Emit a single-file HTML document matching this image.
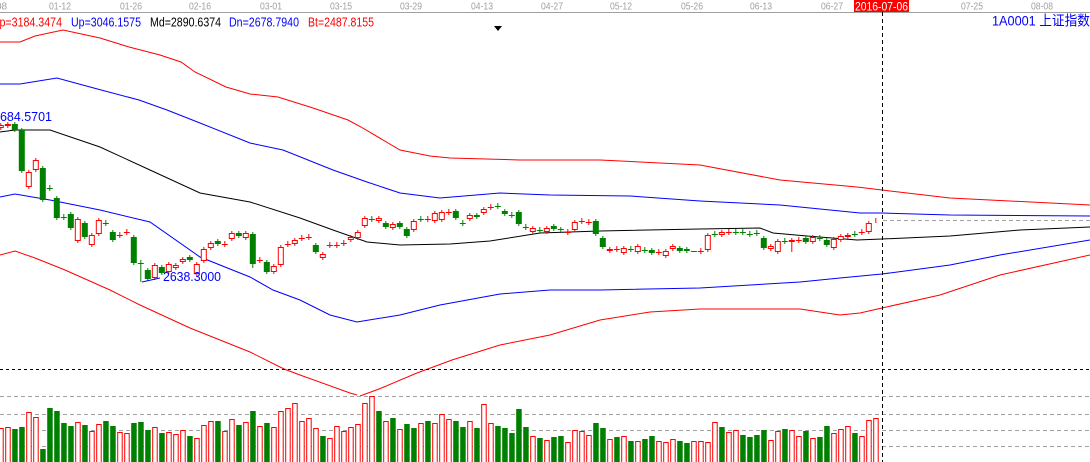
<!DOCTYPE html>
<html><head><meta charset="utf-8"><style>
html,body{margin:0;padding:0;background:#fff;overflow:hidden}
svg{display:block}
text{font-family:"Liberation Sans","Noto Sans CJK SC",sans-serif}
</style></head><body>
<svg id="s" width="1090" height="462" xmlns="http://www.w3.org/2000/svg"></svg>
<script>
const S=document.getElementById('s');let h='';
const pl=(pts,c)=>{h+=`<polyline fill="none" stroke="${c}" stroke-width="1" points="${pts.map(p=>p.join(',')).join(' ')}"/>`;};
const T=(x,y,sz,c,t,L)=>{h+=`<text x="${x}" y="${y}" font-size="${sz}" fill="${c}" textLength="${L}" lengthAdjust="spacingAndGlyphs">${t}</text>`;};
// axis
h+=`<line x1="0" y1="12.5" x2="1090" y2="12.5" stroke="#a0a0a0"/>`;
[["01-12",60],["01-26",131],["02-16",200],["03-01",271],["03-15",341],["03-29",411],["04-13",482],["04-27",552],["05-12",621],["05-26",692],["06-13",761],["06-27",832],["07-25",972],["08-08",1042]].forEach(([t,x])=>{T(x-11,9.5,10,"#a0a0a0",t,22);});
h+=`<text x="-4" y="9.5" font-size="10" fill="#a0a0a0">08</text>`;
h+=`<rect x="854" y="0" width="55" height="12" fill="#ff0000"/>`;T(855,10.5,12,"#fff","2016-07-06",53);
// header
T(-7,26.5,13,"#ff0000","Tp=3184.3474",69);T(71,26.5,13,"#0000ff","Up=3046.1575",70);T(150,26.5,13,"#000","Md=2890.6374",71);T(229,26.5,13,"#0000ff","Dn=2678.7940",70);T(308,26.5,13,"#ff0000","Bt=2487.8155",66);
h+=`<polygon points="494,26 502,26 498,31" fill="#000"/>`;
T(992,25.5,14,"#0000ff","1A0001  上证指数",98);
// bands
pl([[0,42],[20,42],[35,36],[63,30],[100,38],[129,47],[160,55],[181,62],[195,72],[226,87],[250,94],[278,97],[313,108],[348,120],[361,127],[400,150],[430,156],[450,158],[520,160],[600,160],[700,165],[780,180],[857,187],[882,190],[950,198],[1090,205]],"#ff0000");
pl([[0,84],[20,84],[57,78],[90,87],[139,100],[167,110],[200,123],[250,143],[283,150],[333,170],[367,182],[400,193],[440,198],[500,193],[550,195],[630,196],[700,201],[780,205],[860,213],[882,213],[950,215],[1090,216]],"#0000ff");
pl([[0,132],[15,130],[50,130],[100,147],[150,170],[200,193],[250,202],[300,218],[333,230],[367,242],[400,245],[450,244],[490,241],[540,233],[600,231],[700,229],[760,228],[773,233],[807,236],[857,240],[882,239],[950,236],[1020,230],[1090,227]],"#000");
pl([[0,197],[15,194],[50,200],[100,210],[150,222],[200,257],[250,277],[273,290],[300,300],[330,315],[357,322],[400,315],[440,305],[500,294],[550,290],[600,290],[700,288],[800,282],[840,278],[882,274],[950,265],[1000,255],[1090,240]],"#0000ff");
pl([[0,255],[15,251],[35,258],[65,270],[110,290],[140,305],[190,328],[250,352],[284,369],[300,375],[350,393],[357,395]],"#ff0000");
pl([[360,396],[379,389],[417,373],[452,360],[500,345],[550,335],[600,320],[650,312],[700,309],[800,309],[840,315],[860,313],[882,308],[940,295],[1000,275],[1090,255]],"#ff0000");
// candles
const C=`r125,128;r124,126;g124,130;g130,171;r172,187;r160,170;g168,200;g188,188;g198,218;g217,217;g214,228;r219,241;g223,237;r235,245;r220,234;g223,223;g232,240;r235,235;r232,232;g237,263;g263,263;g270,279;r265,278;g267,273;r264,272;r265,268;r259,262;g257,260;r264,274;r249,261;r243,248;g241,244;r244,244;r233,239;g233,236;r233,238;g234,264;r260,260;g262,272;r266,272;r247,265;r244,244;r240,244;r238,238;r237,237;g245,252;r254,258;r245,245;r245,245;r243,243;r237,240;r232,238;r218,226;g219,219;r218,221;g223,227;r224,228;g223,227;g229,236;r221,230;g219,219;r219,219;r213,221;r212,220;r212,212;g211,218;g223,223;r215,219;g215,217;r209,213;r207,207;g206,206;g211,214;g215,215;g212,224;g227,227;r228,232;g230,230;r228,232;g226,229;g229,230;r232,232;r222,230;r221,221;r222,222;g221,234;g238,247;r249,251;r249,249;r248,253;g249,249;r246,252;g250,250;g250,253;r252,252;r251,256;r246,249;g248,251;g249,251;r251,251;r251,251;r235,250;g234,234;r232,235;r232,232;g232,232;g232,232;g234,234;g233,233;g238,248;r246,249;r241,252;g241,241;r240,242;r240,240;g238,242;r237,242;g238,238;g240,245;r239,248;r236,240;r235,237;g234,234;r232,232;r223,232;r220,221`.split(';');
C.forEach((s,i)=>{const c=s[0]==='r'?'#ff0000':'#008000';let [a,b]=s.slice(1).split(',').map(Number);const x=7*i+0.8;let hi=a-(a===b?3:2),lo=b+(a===b?3:2);if(i===20)lo=282;if(i===36)lo=268;if(i===99)lo=248;if(i==113)lo=252;
h+=`<line x1="${x}" y1="${hi}" x2="${x}" y2="${lo}" stroke="${c}"/>`;
if(b-a<1){h+=`<line x1="${x-3}" y1="${a+.5}" x2="${x+3}" y2="${a+.5}" stroke="${c}"/>`;}
else if(c==='#008000'){h+=`<rect x="${x-3}" y="${a}" width="6" height="${b-a}" fill="${c}"/>`;}
else{h+=`<rect x="${x-2.5}" y="${a+.5}" width="5" height="${b-a-1}" fill="#fff" stroke="${c}"/>`;}
});
T(-7,121,13,"#0000ff","3684.5701",59);
h+=`<line x1="142" y1="282" x2="160" y2="278" stroke="#0000ff"/>`;T(163,281,13,"#0000ff","2638.3000",58);
// volume grid
h+=`<line x1="0" y1="369.5" x2="1090" y2="369.5" stroke="#000" stroke-dasharray="3,3"/>`;
[396,414,430,446].forEach(y=>{h+=`<line x1="0" y1="${y+.5}" x2="1090" y2="${y+.5}" stroke="#a0a0a0" stroke-dasharray="4,3"/>`;});
const V=`r428 r427 g429 g427 r412 r417 g449 g408 g411 g423 g426 r422 g425 r431 r424 g421 g426 r432 r433 g423 g422 g430 r427 g433 r432 r434 r430 g436 r438 r425 r421 g421 r431 r419 g425 r422 g411 r426 g423 r427 r411 r408 r403 r421 r418 r428 g436 r438 r426 r431 r427 r424 r403 r396 g411 r421 g418 r429 g424 g428 r423 g421 r423 r414 r419 g421 g427 r421 g428 r404 r423 g426 g428 g433 g409 g427 r436 g438 r440 g437 g436 r442 r430 r431 r435 g423 g428 r439 g437 r436 g441 r441 g439 g436 r441 r442 r439 g441 g443 r441 r441 r442 r422 g427 r432 r430 g435 g437 g435 g430 r440 r431 g429 r430 r436 g431 r438 g437 g426 r433 r429 r426 g433 r436 r420 r418`.split(' ');
V.forEach((s,i)=>{const y=+s.slice(1);const x=7*i-1.8;if(s[0]==='g')h+=`<rect x="${x}" y="${y}" width="5.5" height="${462-y}" fill="#008000"/>`;else h+=`<rect x="${x+.5}" y="${y+.5}" width="4.5" height="${462-y}" fill="#fff" stroke="#ff0000"/>`;});
// crosshair
h+=`<line x1="882.5" y1="12" x2="882.5" y2="462" stroke="#000" stroke-dasharray="4,3"/>`;
h+=`<line x1="883" y1="220.5" x2="1090" y2="220.5" stroke="#a0a0a0" stroke-dasharray="4,3"/>`;
S.innerHTML=h;
</script>
</body></html>
